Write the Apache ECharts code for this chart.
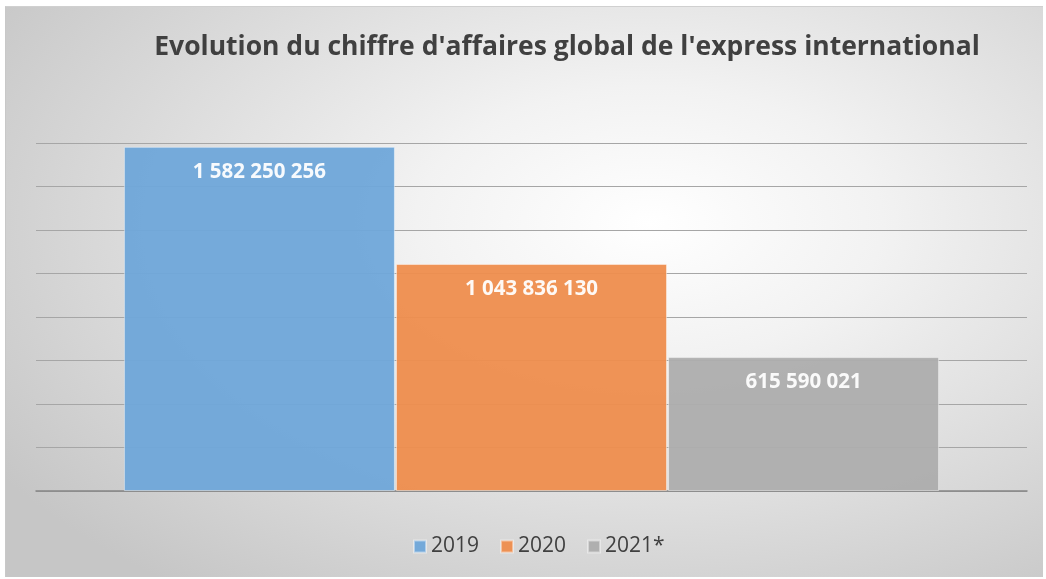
<html>
<head>
    <meta http-equiv="Content-Type" content="text/html; charset=utf-8"/>
    <title>Express international</title>
    <style type="text/css">
        body {
            margin: 0px;
            padding: 0px;
            background: #ffffff;
        }
        #frame {
            position: absolute;
            left: 5px;
            top: 6px;
            width: 1038px;
            height: 571px;
            border-left: 1px solid #c8c8c8;
            border-top: 1px solid #d0d0d0;
            box-sizing: border-box;
            background: radial-gradient(ellipse 75% 80% at 62% 38%, #ffffff 0%, #f2f2f2 30%, #dcdcdc 65%, #c6c6c6 100%);
        }
        #chart {
            position: absolute;
            left: 0;
            top: 0;
            width: 1046px;
            height: 579px;
        }
    </style>
    <script type="text/javascript" src="https://cdn.jsdelivr.net/npm/echarts@6/dist/echarts.min.js"></script>
</head>
<body>
<div id="frame"></div>
<div id="chart"></div>
<script type="text/javascript">
    var titre = "Evolution du chiffre d'affaires global de l'express international";
    var annees = ['2019', '2020', '2021*'];
    var chiffres = [1582250256, 1043836130, 615590021];
    var couleurs = ['#6fa6d9', '#ee8d4d', '#adadad'];

    // 1582250256 -> "1 582 250 256"
    function espaces(v) {
        return String(v).replace(/\B(?=(\d{3})+(?!\d))/g, ' ');
    }

    var series = [];
    for (var i = 0; i < annees.length; i++) {
        series.push({
            name: annees[i],
            type: 'bar',
            data: [chiffres[i]],
            barWidth: 271,
            barGap: '0.4%',
            itemStyle: {
                color: couleurs[i],
                opacity: 0.95,
                borderColor: 'rgba(255,255,255,0.45)',
                borderWidth: 1
            },
            label: {
                show: true,
                position: 'insideTop',
                distance: 15,
                color: '#ffffff',
                fontFamily: 'Open Sans',
                fontWeight: 'bold',
                fontSize: 20.5,
                formatter: function (p) {
                    return espaces(p.value);
                }
            }
        });
    }

    var myChart = echarts.init(document.getElementById('chart'));
    myChart.setOption({
        backgroundColor: 'transparent',
        animation: false,
        title: {
            text: titre,
            left: 562,
            textAlign: 'center',
            top: 29,
            textStyle: {
                fontFamily: 'Open Sans',
                fontWeight: 'bold',
                fontSize: 26.5,
                color: '#404040'
            }
        },
        legend: {
            data: annees,
            left: 408,
            top: 531,
            icon: 'rect',
            itemWidth: 12,
            itemHeight: 12,
            itemGap: 21,
            textStyle: {
                fontFamily: 'Open Sans',
                fontSize: 21,
                color: '#404040'
            }
        },
        grid: {
            left: 36,
            right: 19,
            top: 143,
            bottom: 88
        },
        xAxis: {
            type: 'category',
            data: [''],
            axisLine: {lineStyle: {color: '#858585', width: 1.5}},
            axisTick: {show: false},
            axisLabel: {show: false}
        },
        yAxis: {
            type: 'value',
            min: 0,
            max: 1600000000,
            interval: 200000000,
            axisLabel: {show: false},
            axisLine: {show: false},
            axisTick: {show: false},
            splitLine: {lineStyle: {color: '#a6a6a6', width: 1.2}}
        },
        series: series
    });
</script>
</body>
</html>
